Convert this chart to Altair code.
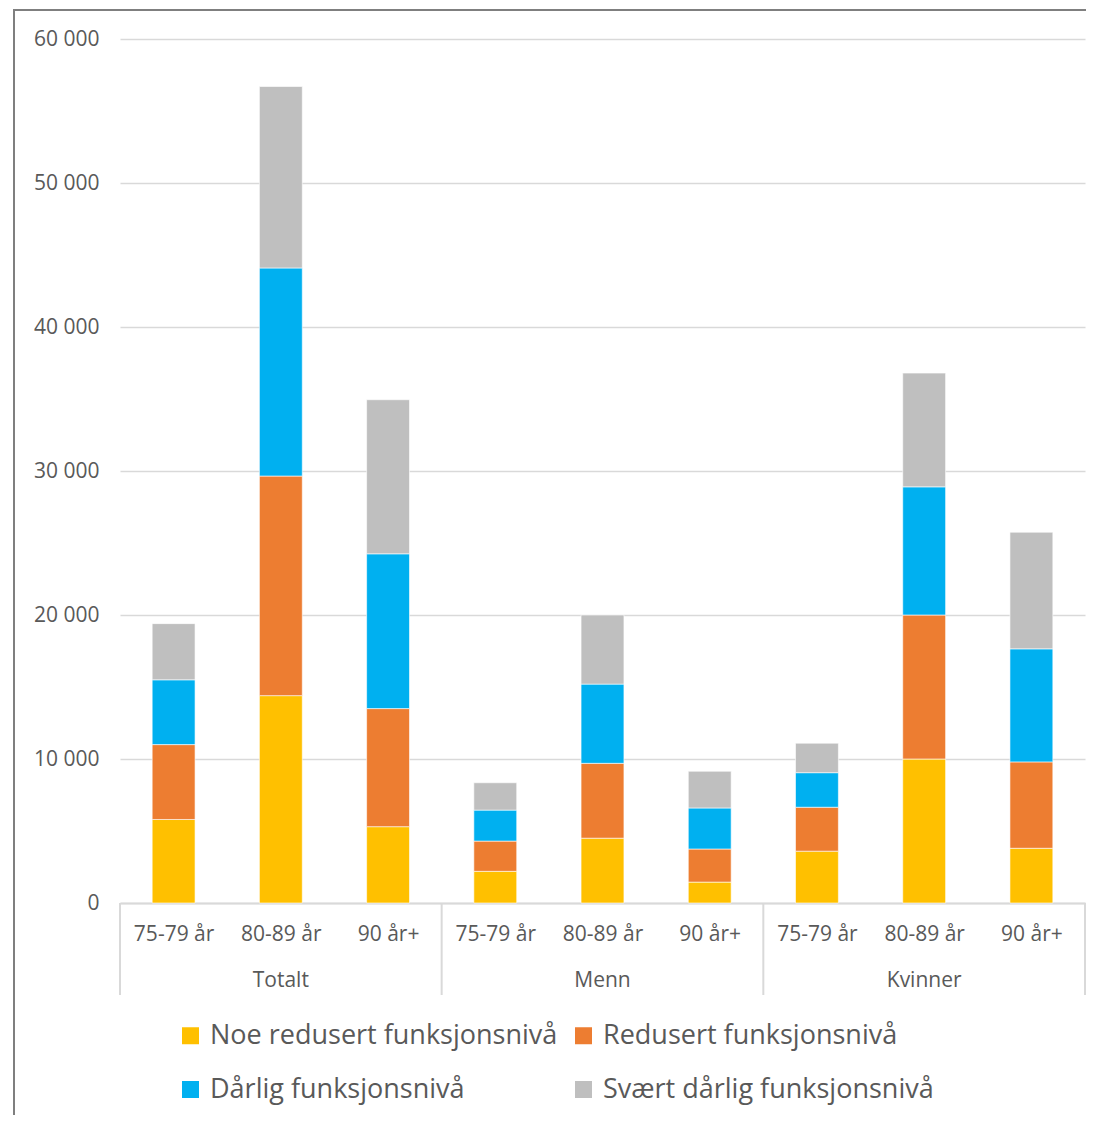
import json
import altair as alt
import pandas as pd

# ---- data ----
groups = ["Totalt", "Menn", "Kvinner"]
ages = ["75-79 år", "80-89 år", "90 år+"]
levels = [
    "Noe redusert funksjonsnivå",
    "Redusert funksjonsnivå",
    "Dårlig funksjonsnivå",
    "Svært dårlig funksjonsnivå",
]
colors = ["#FFC000", "#ED7D31", "#00B0F0", "#BFBFBF"]

# order of bars: Totalt (75-79, 80-89, 90+), Menn (...), Kvinner (...)
noe_redusert = [5800, 14400, 5300, 2200, 4500, 1450, 3600, 10000, 3800]
redusert = [5200, 15250, 8200, 2100, 5200, 2300, 3050, 10000, 6000]
darlig = [4500, 14450, 10750, 2150, 5500, 2850, 2400, 8900, 7850]
svaert_darlig = [3900, 12600, 10700, 1900, 4800, 2550, 2050, 7900, 8100]

y_ticks = [0, 10000, 20000, 30000, 40000, 50000, 60000]

series = [noe_redusert, redusert, darlig, svaert_darlig]
rows = []
for i in range(len(noe_redusert)):
    base = 0
    for k, vals in enumerate(series):
        rows.append({
            "i": i,
            "group": groups[i // 3],
            "age": ages[i % 3],
            "level": levels[k],
            "order": k,
            "y0": base,
            "y1": base + vals[i],
        })
        base += vals[i]
df = pd.DataFrame(rows)

n = len(noe_redusert)
W, H = 965, 864
FONT = "Open Sans"
TXT = "#595959"
GRID = "#d9d9d9"

xscale = alt.Scale(domain=[0, n], nice=False, zero=False)
yscale = alt.Scale(domain=[0, 60000], nice=False)

age_expr = "%s[floor(datum.value) %% 3]" % json.dumps(ages, ensure_ascii=False)

bars = alt.Chart(df).transform_calculate(
    x1="datum.i + 0.3", x2="datum.i + 0.7"
).mark_bar(stroke="white", strokeWidth=0.6).encode(
    x=alt.X("x1:Q", scale=xscale, axis=alt.Axis(
        values=[k + 0.5 for k in range(n)], labelExpr=age_expr, title=None,
        grid=False, ticks=False, domainColor=GRID, domainWidth=2,
        labelFontSize=21, labelColor=TXT, labelFont=FONT, labelPadding=20)),
    x2="x2:Q",
    y=alt.Y("y0:Q", scale=yscale, axis=alt.Axis(
        values=y_ticks, title=None, domain=False, ticks=False,
        gridColor=GRID, gridWidth=1.5,
        labelExpr="datum.value == 0 ? '0' : floor(datum.value / 1000) + ' 000'",
        labelFontSize=21, labelColor=TXT, labelFont=FONT, labelPadding=21)),
    y2="y1:Q",
    color=alt.Color("level:N", scale=alt.Scale(domain=levels, range=colors),
                    legend=alt.Legend(
                        orient="none", legendX=57, legendY=983, columns=2,
                        direction="horizontal",
                        title=None, symbolType="square", symbolSize=289,
                        symbolStrokeWidth=0, labelFontSize=27, labelColor=TXT,
                        labelFont=FONT, labelOffset=6, rowPadding=26,
                        columnPadding=12, padding=0, labelLimit=600)),
    order="order:Q",
)

# group separators and group labels
sep_df = pd.DataFrame({"s": [0, 3, 6, 9]})
seps = alt.Chart(sep_df).mark_rule(color=GRID, strokeWidth=2).encode(
    x=alt.X("s:Q", scale=xscale), y=alt.value(H), y2=alt.value(H + 92))

grp_df = pd.DataFrame({"c": [1.5, 4.5, 7.5], "group": groups})
grp_text = alt.Chart(grp_df).mark_text(
    fontSize=21, color=TXT, font=FONT, baseline="alphabetic").encode(
    x=alt.X("c:Q", scale=xscale), y=alt.value(H + 84), text="group:N")

frame = alt.Chart(pd.DataFrame({"f": [0]})).mark_rect(
    filled=False, stroke="#7f7f7f", strokeWidth=2).encode(
    x=alt.value(-106), x2=alt.value(1100), y=alt.value(-29), y2=alt.value(1300))

chart = alt.layer(bars, seps, grp_text, frame).properties(
    width=W, height=H,
    autosize=alt.AutoSizeParams(type="none"),
    padding={"left": 112, "top": 31, "right": 1, "bottom": 212},
).configure(font=FONT).configure_view(strokeWidth=0, stroke="transparent")

chart.save("out.html", embed_options={"renderer": "svg", "actions": False})
